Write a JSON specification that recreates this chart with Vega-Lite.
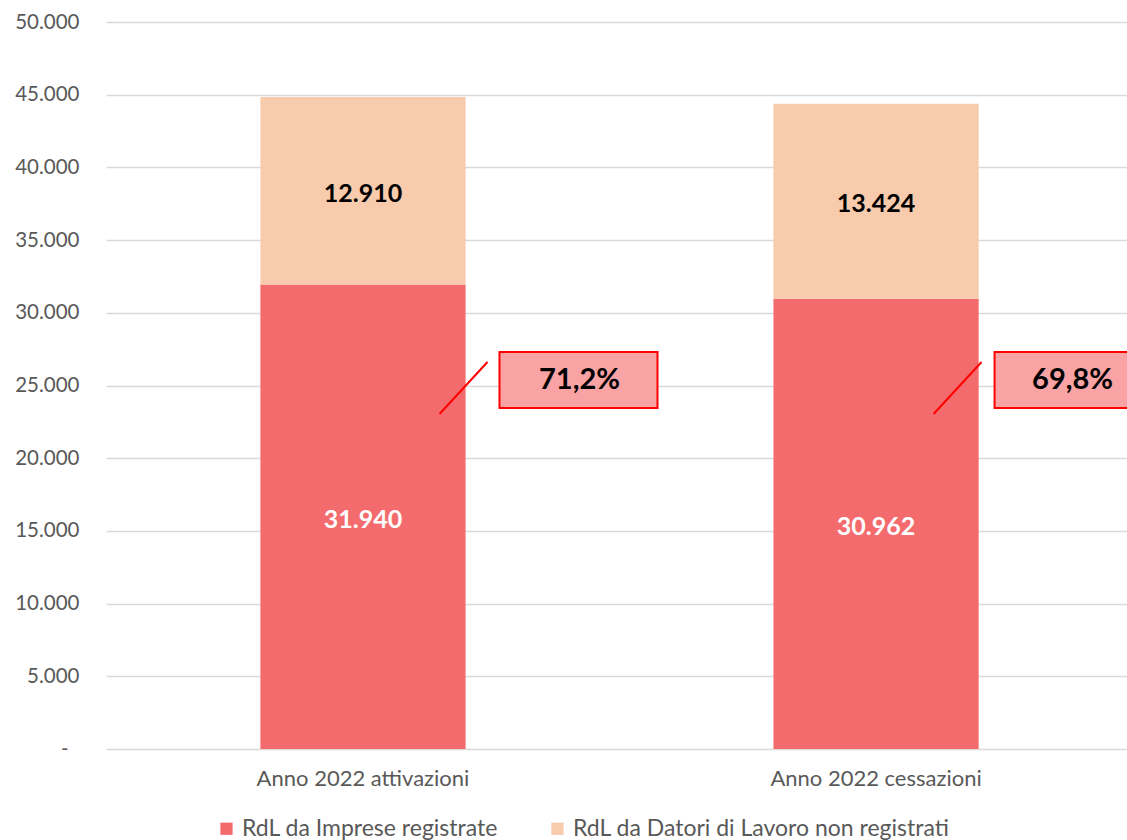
{
  "$schema": "https://vega.github.io/schema/vega-lite/v6.json",
  "width": 1021,
  "height": 727,
  "autosize": {"type": "none"},
  "padding": {"left": 106, "top": 22, "right": 0, "bottom": 91},
  "background": "white",
  "config": {
    "locale": {"number": {"decimal": ",", "thousands": ".", "grouping": [3], "currency": ["€", ""]}},
    "font": "Lato",
    "view": {"stroke": null}
  },
  "datasets": {
    "main": [
      {"cat": "Anno 2022 attivazioni", "serie": "RdL da Imprese registrate", "v": 31940},
      {"cat": "Anno 2022 attivazioni", "serie": "RdL da Datori di Lavoro non registrati", "v": 12910},
      {"cat": "Anno 2022 cessazioni", "serie": "RdL da Imprese registrate", "v": 30962},
      {"cat": "Anno 2022 cessazioni", "serie": "RdL da Datori di Lavoro non registrati", "v": 13424}
    ]
  },
  "encoding": {
    "x": {
      "field": "cat", "type": "nominal", "sort": null, "title": null,
      "scale": {"domain": ["Anno 2022 attivazioni", "Anno 2022 cessazioni"], "paddingInner": 0.6, "paddingOuter": 0.295, "align": 0.51},
      "axis": {"labelAngle": 0, "domain": false, "ticks": false, "labelFont": "Lato", "labelFontSize": 22, "labelColor": "#595959", "labelPadding": 19, "labelLimit": 500, "grid": false}
    }
  },
  "layer": [
    {
      "data": {"name": "main"},
      "mark": {"type": "bar"},
      "encoding": {
        "y": {
          "field": "v", "type": "quantitative", "stack": "zero", "title": null,
          "scale": {"domain": [0, 50000], "nice": false},
          "axis": {"values": [0, 5000, 10000, 15000, 20000, 25000, 30000, 35000, 40000, 45000, 50000], "format": ",d", "labelExpr": "datum.value === 0 ? '-' : datum.label", "domain": false, "ticks": false, "labelFont": "Lato", "labelFontSize": 20.5, "labelColor": "#595959", "labelPadding": {"condition": {"test": "datum.value === 0", "value": 38}, "value": 27}, "gridColor": "#D9D9D9", "gridWidth": 1.3}
        },
        "color": {
          "field": "serie", "type": "nominal", "title": null,
          "scale": {"domain": ["RdL da Imprese registrate", "RdL da Datori di Lavoro non registrati"], "range": ["#F46B6D", "#F7CBAB"]},
          "legend": {"orient": "none", "legendX": 109, "legendY": 795, "direction": "horizontal", "symbolType": "square", "symbolSize": 150, "symbolStrokeWidth": 0, "labelFont": "Lato", "labelFontSize": 23, "labelColor": "#595959", "labelOffset": 4, "columnPadding": 47, "labelLimit": 500}
        },
        "order": {"field": "serie", "sort": "descending"}
      }
    },
    {
      "data": {"name": "main"},
      "mark": {"type": "text", "fontWeight": "bold", "fontSize": 25, "font": "Lato", "baseline": "middle", "dy": 3},
      "encoding": {
        "y": {"field": "v", "type": "quantitative", "stack": "zero", "bandPosition": 0.5},
        "detail": {"field": "serie"},
        "order": {"field": "serie", "sort": "descending"},
        "text": {"field": "v", "type": "quantitative", "format": ",d"},
        "color": {"condition": {"test": "datum.serie === 'RdL da Imprese registrate'", "value": "white"}, "value": "black"}
      }
    },
    {
      "data": {"values": [{"cat": "Anno 2022 attivazioni", "pct": "71,2%"}]},
      "layer": [
        {"mark": {"type": "rule", "color": "#FF0000", "strokeWidth": 2, "xOffset": 76.5, "x2Offset": 124.5},
         "encoding": {"x2": {"field": "cat"}, "y": {"datum": 23040, "type": "quantitative"}, "y2": {"datum": 26616}}},
        {"mark": {"type": "bar", "width": 158, "xOffset": 215.5, "fill": "#F9A3A5", "stroke": "#FF0000", "strokeWidth": 2},
         "encoding": {"y": {"datum": 23452, "type": "quantitative"}, "y2": {"datum": 27304}}},
        {"mark": {"type": "text", "fontWeight": "bold", "fontSize": 29, "font": "Lato", "color": "black", "xOffset": 216.5, "baseline": "middle"},
         "encoding": {"y": {"datum": 25378, "type": "quantitative"}, "text": {"field": "pct"}}}
      ]
    },
    {
      "data": {"values": [{"cat": "Anno 2022 cessazioni", "pct": "69,8%"}]},
      "layer": [
        {"mark": {"type": "rule", "color": "#FF0000", "strokeWidth": 2, "xOffset": 57.5, "x2Offset": 105.5},
         "encoding": {"x2": {"field": "cat"}, "y": {"datum": 23040, "type": "quantitative"}, "y2": {"datum": 26616}}},
        {"mark": {"type": "bar", "width": 158, "xOffset": 197.5, "fill": "#F9A3A5", "stroke": "#FF0000", "strokeWidth": 2},
         "encoding": {"y": {"datum": 23452, "type": "quantitative"}, "y2": {"datum": 27304}}},
        {"mark": {"type": "text", "fontWeight": "bold", "fontSize": 29, "font": "Lato", "color": "black", "xOffset": 196.5, "baseline": "middle"},
         "encoding": {"y": {"datum": 25378, "type": "quantitative"}, "text": {"field": "pct"}}}
      ]
    }
  ]
}
